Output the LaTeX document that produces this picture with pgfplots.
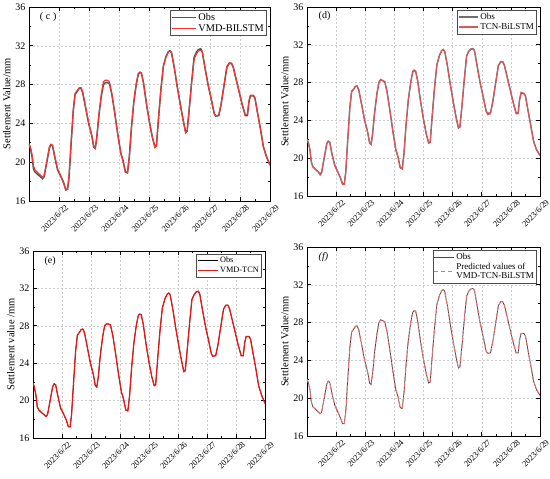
\documentclass[border=0pt]{standalone}
\usepackage{fontspec}
\setmainfont{Liberation Serif}
\usepackage{pgfplots}
\usepackage{pgfplotstable}
\pgfplotsset{compat=1.18}

\pgfplotstableread{
x y
0.00 22.0
0.05 21.6
0.10 20.9
0.15 19.6
0.20 19.1
0.30 18.8
0.40 18.5
0.45 18.35
0.50 18.5
0.55 19.3
0.62 20.5
0.68 21.5
0.73 21.8
0.78 21.7
0.85 20.6
0.95 19.3
1.05 18.6
1.15 17.9
1.22 17.3
1.28 17.3
1.33 18.5
1.40 22.0
1.47 25.3
1.53 27.0
1.60 27.3
1.66 27.6
1.72 27.65
1.78 27.2
1.88 25.6
1.98 24.0
2.08 22.8
2.15 21.6
2.20 21.45
2.25 22.5
2.32 24.8
2.40 26.8
2.47 28.0
2.53 28.3
2.60 28.2
2.67 28.1
2.75 27.0
2.85 25.0
2.95 22.8
3.05 20.9
3.12 20.2
3.20 19.0
3.27 18.9
3.33 20.5
3.40 23.5
3.48 26.2
3.56 28.0
3.63 29.1
3.68 29.25
3.73 29.2
3.80 28.2
3.90 26.0
4.00 24.1
4.10 22.5
4.18 21.6
4.23 21.7
4.30 24.5
4.38 27.5
4.46 29.9
4.55 30.9
4.63 31.4
4.68 31.5
4.73 31.3
4.82 29.8
4.92 27.8
5.02 26.0
5.12 24.3
5.20 23.2
5.25 23.3
5.32 25.5
5.40 28.3
5.48 30.8
5.55 31.3
5.62 31.55
5.70 31.6
5.75 31.4
5.85 29.6
5.95 27.9
6.05 26.5
6.15 25.0
6.20 24.75
6.30 24.8
6.38 26.0
6.48 28.0
6.57 29.8
6.65 30.2
6.72 30.2
6.78 29.8
6.88 28.5
6.98 27.2
7.08 25.9
7.18 24.8
7.25 24.8
7.30 26.2
7.35 26.85
7.45 26.85
7.50 26.6
7.58 25.2
7.68 23.5
7.78 21.8
7.88 20.9
8.00 20.3
}\obsDF

\pgfplotstableread{
x y
0.00 21.9
0.05 21.4
0.10 20.6
0.15 19.3
0.20 19.0
0.30 18.7
0.40 18.45
0.45 18.3
0.50 18.5
0.55 19.3
0.62 20.5
0.68 21.5
0.73 21.8
0.78 21.7
0.85 20.6
0.95 19.2
1.05 18.6
1.15 17.9
1.22 17.2
1.28 17.2
1.33 18.5
1.40 22.0
1.47 25.3
1.53 27.0
1.60 27.3
1.66 27.6
1.72 27.65
1.78 27.2
1.88 25.6
1.98 24.0
2.08 22.8
2.15 21.6
2.20 21.45
2.25 22.5
2.32 24.8
2.40 26.8
2.47 28.0
2.53 28.2
2.60 28.2
2.67 28.1
2.75 27.0
2.85 25.0
2.95 22.8
3.05 20.9
3.12 20.2
3.20 19.0
3.27 18.9
3.33 20.5
3.40 23.5
3.48 26.2
3.56 28.0
3.63 29.1
3.68 29.25
3.73 29.2
3.80 28.2
3.90 26.0
4.00 24.1
4.10 22.5
4.18 21.6
4.23 21.7
4.30 24.5
4.38 27.5
4.46 29.9
4.55 30.9
4.63 31.4
4.68 31.5
4.73 31.3
4.82 29.8
4.92 27.8
5.02 26.0
5.12 24.3
5.20 23.1
5.25 23.2
5.32 25.5
5.40 28.3
5.48 30.8
5.55 31.3
5.62 31.6
5.70 31.7
5.75 31.4
5.85 29.6
5.95 27.9
6.05 26.5
6.15 25.0
6.20 24.75
6.30 24.8
6.38 26.0
6.48 28.0
6.57 29.8
6.65 30.2
6.72 30.2
6.78 29.8
6.88 28.5
6.98 27.2
7.08 25.9
7.18 24.8
7.25 24.8
7.30 26.2
7.35 26.85
7.45 26.85
7.50 26.6
7.58 25.2
7.68 23.5
7.78 21.6
7.88 20.6
8.00 19.7
}\obsCE

\pgfplotstableread{
x y
0.00 21.9
0.05 21.5
0.10 20.8
0.15 19.6
0.20 19.2
0.30 18.9
0.40 18.6
0.45 18.45
0.50 18.6
0.55 19.4
0.62 20.6
0.68 21.6
0.73 21.85
0.78 21.75
0.85 20.7
0.95 19.3
1.05 18.6
1.15 17.8
1.22 17.1
1.28 17.2
1.33 18.6
1.40 22.1
1.47 25.4
1.53 27.1
1.60 27.4
1.66 27.65
1.72 27.7
1.78 27.3
1.88 25.7
1.98 24.1
2.08 22.8
2.15 21.5
2.20 21.4
2.25 22.6
2.32 24.9
2.40 27.0
2.47 28.3
2.53 28.45
2.60 28.45
2.67 28.3
2.75 27.1
2.85 25.0
2.95 22.8
3.05 20.9
3.12 20.1
3.20 19.0
3.27 18.95
3.33 20.6
3.40 23.6
3.48 26.3
3.56 28.1
3.63 29.15
3.68 29.3
3.73 29.2
3.80 28.2
3.90 26.0
4.00 24.1
4.10 22.5
4.18 21.5
4.23 21.7
4.30 24.6
4.38 27.6
4.46 29.9
4.55 30.9
4.63 31.4
4.68 31.45
4.73 31.3
4.82 29.8
4.92 27.8
5.02 26.0
5.12 24.3
5.20 23.0
5.25 23.2
5.32 25.5
5.40 28.2
5.48 30.6
5.55 31.1
5.62 31.45
5.70 31.55
5.75 31.4
5.85 29.6
5.95 27.9
6.05 26.5
6.15 25.0
6.20 24.8
6.30 24.85
6.38 26.1
6.48 28.1
6.57 29.9
6.65 30.25
6.72 30.2
6.78 29.8
6.88 28.5
6.98 27.2
7.08 25.9
7.18 24.9
7.25 24.9
7.30 26.3
7.35 26.9
7.45 26.9
7.50 26.65
7.58 25.2
7.68 23.5
7.78 21.6
7.88 20.6
8.00 19.7
}\predC

\pgfplotstableread{
x y
0.00 22.0
0.05 21.6
0.10 20.9
0.15 19.6
0.20 19.1
0.30 18.8
0.40 18.5
0.45 18.2
0.50 18.4
0.55 19.4
0.62 20.6
0.68 21.6
0.73 21.8
0.78 21.7
0.85 20.5
0.95 19.2
1.05 18.6
1.15 17.9
1.22 17.2
1.28 17.2
1.33 18.5
1.40 22.0
1.47 25.3
1.53 27.1
1.60 27.3
1.66 27.6
1.72 27.6
1.78 27.2
1.88 25.6
1.98 24.0
2.08 22.8
2.15 21.6
2.20 21.45
2.25 22.5
2.32 24.8
2.40 26.8
2.47 28.1
2.53 28.35
2.60 28.2
2.67 28.1
2.75 27.0
2.85 25.0
2.95 22.8
3.05 20.9
3.12 20.2
3.20 19.0
3.27 18.85
3.33 20.5
3.40 23.5
3.48 26.2
3.56 28.0
3.63 29.2
3.68 29.35
3.73 29.2
3.80 28.2
3.90 26.0
4.00 24.1
4.10 22.5
4.18 21.6
4.23 21.7
4.30 24.5
4.38 27.5
4.46 29.9
4.55 30.9
4.63 31.4
4.68 31.5
4.73 31.3
4.82 29.8
4.92 27.8
5.02 26.0
5.12 24.3
5.20 23.2
5.25 23.3
5.32 25.5
5.40 28.3
5.48 30.8
5.55 31.3
5.62 31.5
5.70 31.55
5.75 31.4
5.85 29.6
5.95 27.9
6.05 26.5
6.15 25.0
6.20 24.6
6.30 24.7
6.38 26.0
6.48 28.0
6.57 29.8
6.65 30.25
6.72 30.25
6.78 29.8
6.88 28.5
6.98 27.2
7.08 25.9
7.18 24.7
7.25 24.7
7.30 26.2
7.35 27.0
7.45 26.85
7.50 26.6
7.58 25.2
7.68 23.5
7.78 21.8
7.88 20.9
8.00 20.3
}\predD

\pgfplotsset{
  legimg/.style={legend image code/.code={\draw[##1] (0pt,0pt) -- (#1,0pt);}},
  panel/.style={
    scale only axis,
    anchor=south west,
    xmin=0, xmax=8, ymin=16, ymax=36,
    xtick={1,2,3,4,5,6,7,8},
    xticklabels={2023/6/22,2023/6/23,2023/6/24,2023/6/25,2023/6/26,2023/6/27,2023/6/28,2023/6/29},
    ytick={16,20,24,28,32,36},
    minor x tick num=1, minor y tick num=1,
    tick align=inside,
    major tick length=4pt, minor tick length=2pt,
    tick style={black, line width=0.6pt},
    axis line style={black, line width=0.9pt},
    grid=major,
    major grid style={gray!40, dash pattern=on 2pt off 2pt, line width=0.4pt},
    x tick label style={rotate=45, anchor=north east, font=\fontsize{8.4}{9}\selectfont, inner sep=1pt, xshift=3pt, yshift=-5pt},
    y tick label style={font=\fontsize{10}{11}\selectfont},
    /pgf/number format/assume math mode=true,
    ylabel style={font=\fontsize{10.5}{12}\selectfont, yshift=-2pt},
    legend cell align=left,
    legend style={draw=black!70, line width=0.4pt, fill=white, at={(rel axis cs:0.985,0.985)}, anchor=north east,
      font=\fontsize{10.3}{11}\selectfont, inner sep=1pt, row sep=-1.5pt,
      nodes={inner xsep=1.5pt}},
    legimg=24pt,
  },
}

\begin{document}
\begin{tikzpicture}[x=1pt,y=1pt]
\path[use as bounding box] (0,0) rectangle (550,479);

% (c)
\begin{axis}[panel, at={(29pt,278pt)}, width=241pt, height=194pt,
  ylabel={Settlement Value/mm}]
\addplot[color={rgb,255:red,85;green,85;blue,85}, line width=1.5pt] table {\obsCE};
\addlegendentry{Obs}
\addplot[color={rgb,255:red,250;green,50;blue,50}, line width=1.1pt] table {\predC};
\addlegendentry{VMD-BILSTM}
\node[anchor=west, font=\fontsize{10}{11}\selectfont] at (rel axis cs:0.03,0.95) {(\;c\;)};
\end{axis}

% (d)
\begin{axis}[panel, legimg=19pt, at={(307pt,283pt)}, width=233pt, height=189pt,
  ylabel={Settlement Value/mm},
  legend style={font=\fontsize{9}{10}\selectfont}]
\addplot[color={rgb,255:red,110;green,110;blue,110}, line width=1.4pt] table {\obsDF};
\addlegendentry{Obs}
\addplot[color={rgb,255:red,220;green,85;blue,90}, line width=1.1pt] table {\predD};
\addlegendentry{TCN-BiLSTM}
\node[anchor=west, font=\fontsize{10}{11}\selectfont] at (rel axis cs:0.035,0.95) {(d)};
\end{axis}

% (e)
\begin{axis}[panel, legimg=20pt, at={(33pt,41pt)}, width=232pt, height=187pt,
  ylabel={Settlement value /mm},
  legend style={font=\fontsize{8.3}{9}\selectfont}]
\addplot[color=black, line width=0.6pt] table {\obsCE};
\addlegendentry{Obs}
\addplot[color={rgb,255:red,225;green,25;blue,25}, line width=1.3pt] table {\obsCE};
\addlegendentry{VMD-TCN}
\node[anchor=west, font=\fontsize{10}{11}\selectfont] at (rel axis cs:0.035,0.947) {(e)};
\end{axis}

% (f)
\begin{axis}[panel, legimg=20pt, at={(307pt,43pt)}, width=233pt, height=189pt,
  ylabel={Settlement Value/mm},
  legend style={font=\fontsize{9}{10}\selectfont}]
\addplot[color={rgb,255:red,70;green,70;blue,70}, line width=0.8pt] table {\obsDF};
\addlegendentry{Obs}
\addplot[color={rgb,255:red,240;green,110;blue,110}, line width=1.0pt, dash pattern=on 4pt off 3pt] table {\obsDF};
\addlegendentry{\shortstack[l]{Predicted values of\\VMD-TCN-BiLSTM}}
\node[anchor=west, font=\fontsize{10}{11}\selectfont\itshape] at (rel axis cs:0.035,0.947) {(f)};
\end{axis}
\end{tikzpicture}
\end{document}
